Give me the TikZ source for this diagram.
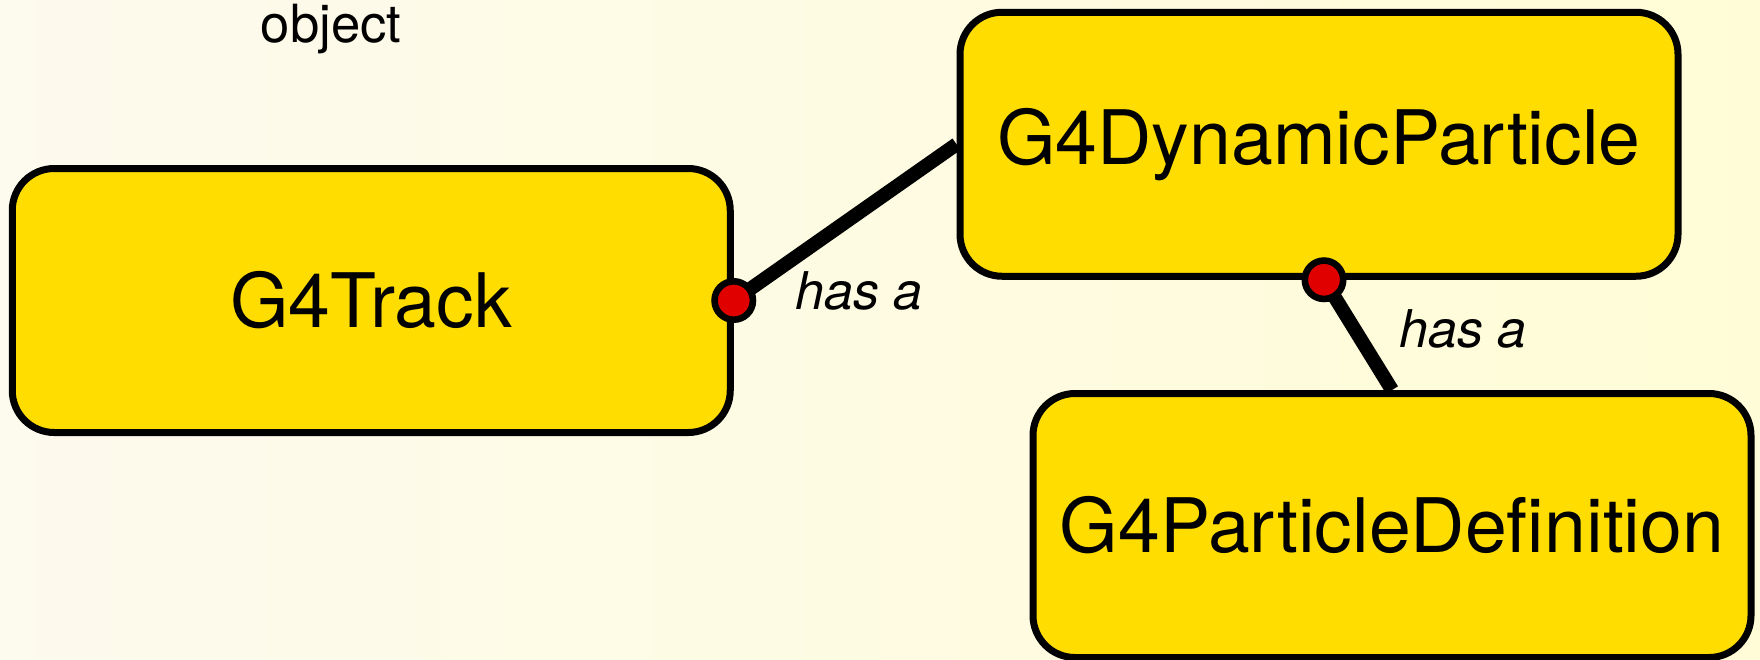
\documentclass[tikz,border=0pt]{standalone}
\usepackage{fontspec}
\setmainfont{TeX Gyre Heros}
\definecolor{bgleft}{RGB}{253,250,238}
\definecolor{bgright}{RGB}{255,252,215}
\definecolor{boxfill}{RGB}{255,221,0}
\definecolor{dotred}{RGB}{224,0,0}
\tikzset{
  objbox/.style={draw=black, line width=3.5pt, fill=boxfill, rounded corners=21pt,
    minimum width=359pt, minimum height=132pt, inner sep=0pt,
    font=\fontsize{37.6}{44}\selectfont},
  link/.style={line width=7pt, draw=black},
  hasdot/.style={circle, draw=black, line width=3.3pt, fill=dotred, minimum size=19.2pt, inner sep=0pt},
  rel/.style={font=\fontsize{26}{31}\selectfont\itshape, anchor=base, inner sep=0pt},
  title/.style={font=\fontsize{26.3}{31}\selectfont, anchor=base, inner sep=0pt}
}
\begin{document}
\begin{tikzpicture}[x=0.5pt,y=-0.5pt]
\useasboundingbox (0,0) rectangle (1760,659);
\shade[left color=bgleft, right color=bgright] (0,0) rectangle (1760,659);
\node[title] (obj) at (331,42) {object};
\node[objbox] (track) at (371.25,300.5) {G4Track};
\node[objbox] (dp) at (1319,144.25) {G4DynamicParticle};
\node[objbox] (pd) at (1392,525.5) {G4ParticleDefinition};
\coordinate (d1) at (track.east);
\coordinate (d2) at ([xshift=2.5pt]dp.south);
\draw[link] (d1) -- (dp.west);
\draw[link] (d2) -- (pd.north);
\node[hasdot] (dot1) at (d1) {};
\node[hasdot] (dot2) at (d2) {};
\node[rel] (r1) at (859,309) {has a};
\node[rel] (r2) at (1463,347) {has a};
\end{tikzpicture}
\end{document}
